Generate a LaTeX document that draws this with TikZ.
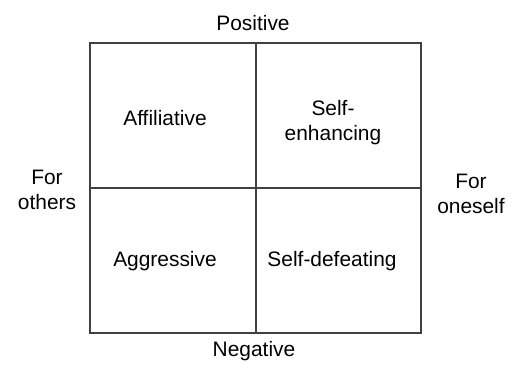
\documentclass[tikz,border=0pt]{standalone}
\usepackage{fontspec}
\setmainfont{Liberation Sans}
\begin{document}
\begin{tikzpicture}[lbl/.style={font=\fontsize{11.9}{14.2}\selectfont,align=center,inner sep=0pt}]
\useasboundingbox (0,0) rectangle (10.24,7.3);
\coordinate (SW) at (1.8,0.64);
\coordinate (NE) at (8.42,6.44);
\coordinate (M) at (5.12,3.54);

\draw[black!75,line width=0.7pt] (SW) rectangle (NE);
\draw[black!75,line width=0.7pt] (SW -| M)--(NE -| M);
\draw[black!75,line width=0.7pt] (SW |- M)--(NE |- M);

\node[lbl,anchor=base] (pos) at (5.06,6.69) {Positive};
\node[lbl,anchor=base] (neg) at (5.08,0.16) {Negative};
\node[lbl] (oth) at (0.94,3.5) {For\\others};
\node[lbl] (one) at (9.42,3.42) {For\\oneself};

\node[lbl,anchor=base] (aff) at (3.3,4.78) {Affiliative};
\node[lbl] (enh) at (6.66,4.85) {Self-\\enhancing};
\node[lbl,anchor=base] (agg) at (3.3,1.96) {Aggressive};
\node[lbl,anchor=base] (def) at (6.64,1.96) {Self-defeating};
\end{tikzpicture}
\end{document}
